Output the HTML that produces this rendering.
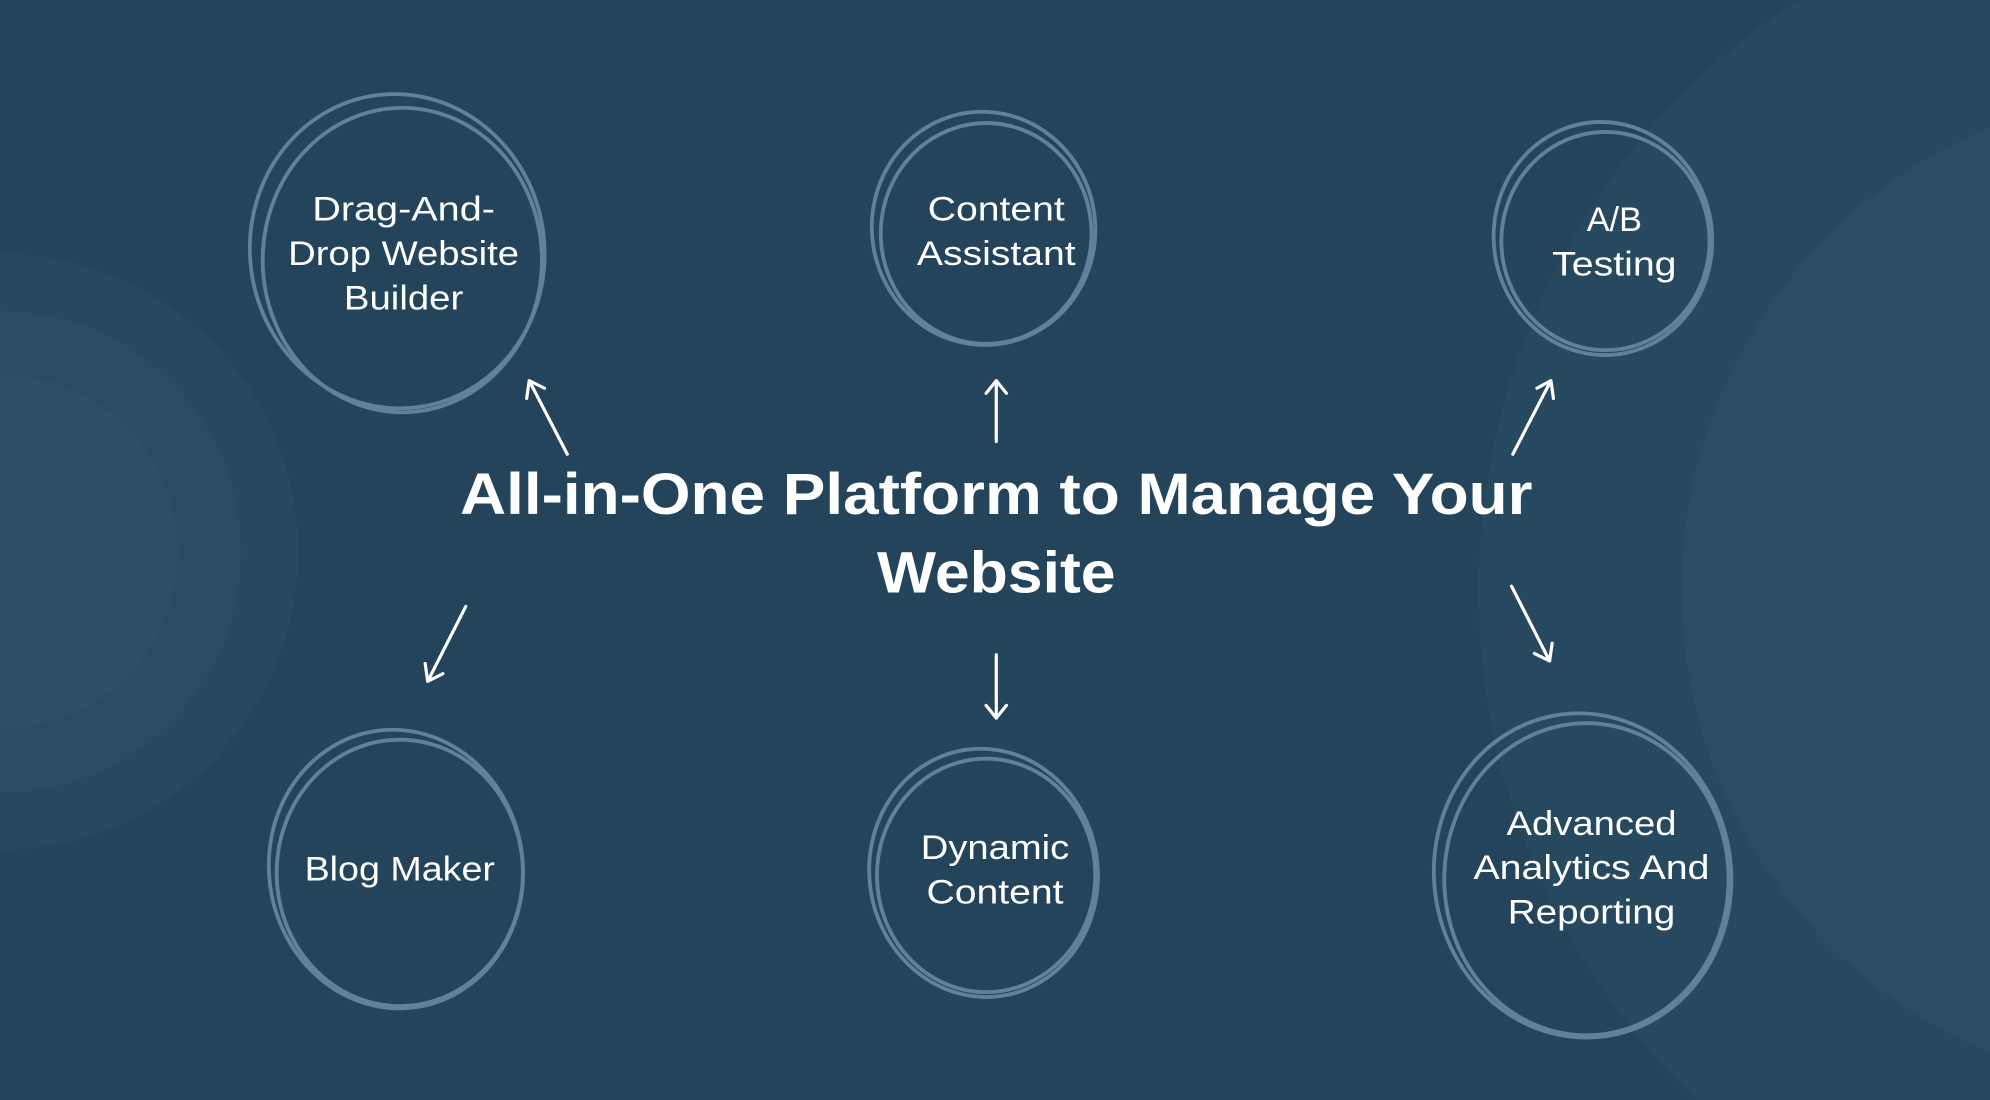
<!DOCTYPE html>
<html><head><style>
html,body{margin:0;padding:0;background:#23445b;width:1990px;height:1100px;overflow:hidden;position:relative;}
svg{display:block;position:absolute;left:0;top:0;overflow:hidden;}
text{font-family:"Liberation Sans",sans-serif;fill:#fff;}
</style></head><body>
<svg width="1990" height="1100" viewBox="0 0 1568 867" preserveAspectRatio="none" overflow="hidden" xmlns="http://www.w3.org/2000/svg">
<defs><clipPath id="c"><rect width="1568" height="867"/></clipPath></defs>
<g clip-path="url(#c)">
<rect width="1568" height="867" fill="#23445b"/>
<circle cx="0" cy="435" r="235" fill="#27495f"/>
<circle cx="0" cy="435" r="190" fill="#2a4c63"/>
<circle cx="0" cy="435" r="140" fill="#2d4f66"/>
<circle cx="1720" cy="465" r="555" fill="#27495f"/>
<circle cx="1720" cy="465" r="395" fill="#2b4d63"/>
<g fill="none" stroke="#5f819c" stroke-width="3" stroke-linecap="round">
<ellipse cx="317" cy="205" rx="110" ry="120"/>
<ellipse cx="313" cy="198" rx="116" ry="124" transform="rotate(-8 313 198)"/>
<ellipse cx="777" cy="184" rx="83" ry="87"/>
<ellipse cx="775" cy="180" rx="88" ry="92" transform="rotate(-8 775 180)"/>
<ellipse cx="1265" cy="190" rx="82" ry="86"/>
<ellipse cx="1263" cy="188" rx="86" ry="92" transform="rotate(-8 1263 188)"/>
<ellipse cx="315" cy="688" rx="97" ry="105"/>
<ellipse cx="312" cy="685" rx="100" ry="110" transform="rotate(-8 312 685)"/>
<ellipse cx="777" cy="690" rx="86" ry="92"/>
<ellipse cx="775" cy="688" rx="90" ry="98" transform="rotate(-8 775 688)"/>
<ellipse cx="1250" cy="693" rx="112" ry="123"/>
<ellipse cx="1247" cy="690" rx="117" ry="128" transform="rotate(-8 1247 690)"/>
</g>
<g stroke="#fff" stroke-width="2.5" fill="none" stroke-linecap="round" stroke-linejoin="round">
<path d="M447 358 L417 300 M415 314 L417 300 L429 306"/>
<path d="M785 348 L785 300 M777 310 L785 300 L793 310"/>
<path d="M1192 358 L1222 300 M1211 306 L1222 300 L1224 314"/>
<path d="M367 478 L337 537 M335 523 L337 537 L349 531"/>
<path d="M785 516 L785 566 M777 556 L785 566 L793 556"/>
<path d="M1191 462 L1221 521 M1209 515 L1221 521 L1223 507"/>
</g>
<g font-size="27" text-anchor="middle">
<text x="318" y="174" textLength="144" lengthAdjust="spacingAndGlyphs">Drag-And-</text>
<text x="318" y="209" textLength="182" lengthAdjust="spacingAndGlyphs">Drop Website</text>
<text x="318" y="244" textLength="94" lengthAdjust="spacingAndGlyphs">Builder</text>
<text x="785" y="174" textLength="108" lengthAdjust="spacingAndGlyphs">Content</text>
<text x="785" y="209" textLength="125" lengthAdjust="spacingAndGlyphs">Assistant</text>
<text x="1272" y="182">A/B</text>
<text x="1272" y="217" textLength="98" lengthAdjust="spacingAndGlyphs">Testing</text>
<text x="315" y="694" textLength="150" lengthAdjust="spacingAndGlyphs">Blog Maker</text>
<text x="784" y="677" textLength="117" lengthAdjust="spacingAndGlyphs">Dynamic</text>
<text x="784" y="712" textLength="108" lengthAdjust="spacingAndGlyphs">Content</text>
<text x="1254" y="658" textLength="134" lengthAdjust="spacingAndGlyphs">Advanced</text>
<text x="1254" y="693" textLength="186" lengthAdjust="spacingAndGlyphs">Analytics And</text>
<text x="1254" y="728" textLength="132" lengthAdjust="spacingAndGlyphs">Reporting</text>
</g>
<g font-size="46" font-weight="bold" text-anchor="middle">
<text x="785" y="405" textLength="845" lengthAdjust="spacingAndGlyphs">All-in-One Platform to Manage Your</text>
<text x="785" y="467" textLength="188" lengthAdjust="spacingAndGlyphs">Website</text>
</g>
</g>
</svg>
</body></html>
